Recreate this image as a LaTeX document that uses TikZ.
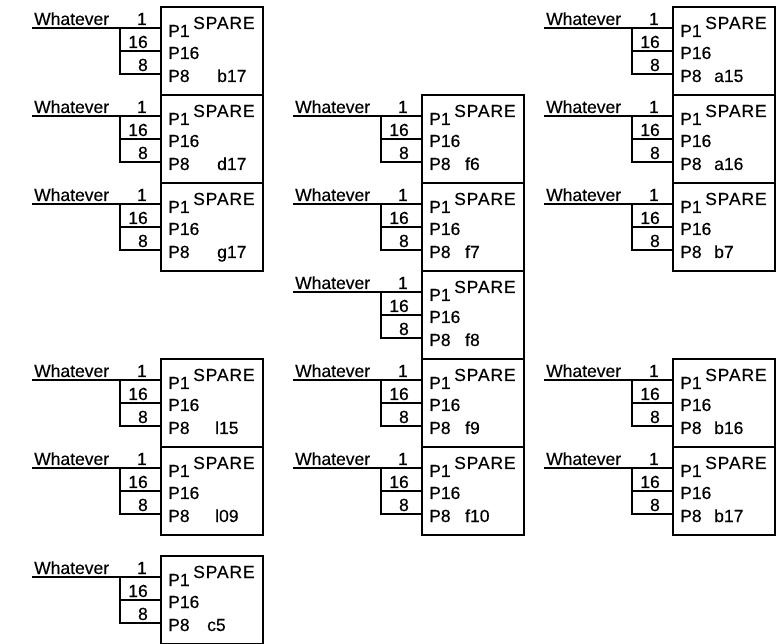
\documentclass[tikz,border=0pt]{standalone}
\usepackage{fontspec}
\setmainfont{Liberation Sans}
\newfontfamily\pinfont{Liberation Sans}[FakeBold=0.4]
\newfontfamily\sparefont{Liberation Sans}[FakeBold=0.4, LetterSpace=5]
\usetikzlibrary{positioning}
\tikzset{
  wire/.style={line width=1.6pt},
  sparebox/.style={draw, line width=1.6pt, minimum width=102pt, minimum height=88pt, inner sep=0pt, anchor=north west},
  pin/.style={font=\pinfont\fontsize{17.5}{19}\selectfont, inner sep=0pt},
  sparetext/.style={font=\sparefont\fontsize{17.5}{19}\selectfont, inner sep=0pt},
}
% #1 name, #2 x, #3 y (top left of box), #4 label, #5 label offset
\newcommand*{\SpareUnit}[5]{%
  \node[sparebox] (#1) at (#2,#3) {};
  \coordinate (#1-p1) at ([yshift=-22pt]#1.north west);
  \coordinate (#1-p16) at ([yshift=-45pt]#1.north west);
  \coordinate (#1-p8) at ([yshift=-68pt]#1.north west);
  \coordinate (#1-w) at ([xshift=-128pt]#1-p1);
  \coordinate (#1-j) at ([xshift=-40pt]#1-p1);
  \coordinate (#1-j16) at ([xshift=-40pt]#1-p16);
  % wires
  \draw[wire] (#1-w) -- (#1-p1);
  \draw[wire] (#1-j) |- (#1-p8);
  \draw[wire] (#1-j16) -- (#1-p16);
  % outside labels
  \node[pin, anchor=base west] (#1-name) at ([shift={(2pt,3pt)}]#1-w) {Whatever};
  \node[pin, anchor=base east] (#1-n1) at ([shift={(-13pt,3pt)}]#1-p1) {1};
  \node[pin, anchor=base east] (#1-n16) at ([shift={(-12pt,3pt)}]#1-p16) {16};
  \node[pin, anchor=base east] (#1-n8) at ([shift={(-12pt,3pt)}]#1-p8) {8};
  % inside labels
  \node[pin, anchor=base west] (#1-P1) at ([shift={(8pt,-31pt)}]#1.north west) {P1};
  \node[sparetext, anchor=base west] (#1-sp) at ([shift={(33pt,-23pt)}]#1.north west) {SPARE};
  \node[pin, anchor=base west] (#1-P16) at ([shift={(8pt,-53pt)}]#1.north west) {P16};
  \node[pin, anchor=base west] (#1-P8) at ([shift={(8pt,-76pt)}]#1.north west) {P8};
  \node[pin, anchor=base west] (#1-lab) at ([shift={(#5pt,-76pt)}]#1.north west) {#4};
}

\begin{document}
\begin{tikzpicture}[x=1pt, y=-1pt]
  \useasboundingbox (0,0) rectangle (780,644);
  % Left column
  \SpareUnit{lb17}{160}{6}{b17}{57}
  \SpareUnit{ld17}{160}{94}{d17}{57}
  \SpareUnit{lg17}{160}{182}{g17}{57}
  \SpareUnit{ll15}{160}{358}{l15}{55}
  \SpareUnit{ll09}{160}{446}{l09}{55}
  \SpareUnit{lc5}{160}{555}{c5}{47}
  % Middle column
  \SpareUnit{mf6}{421}{94}{f6}{44}
  \SpareUnit{mf7}{421}{182}{f7}{44}
  \SpareUnit{mf8}{421}{270}{f8}{44}
  \SpareUnit{mf9}{421}{358}{f9}{44}
  \SpareUnit{mf10}{421}{446}{f10}{44}
  % Right column
  \SpareUnit{ra15}{672}{6}{a15}{42}
  \SpareUnit{ra16}{672}{94}{a16}{42}
  \SpareUnit{rb7}{672}{182}{b7}{42}
  \SpareUnit{rb16}{672}{358}{b16}{42}
  \SpareUnit{rb17}{672}{446}{b17}{42}
\end{tikzpicture}
\end{document}
